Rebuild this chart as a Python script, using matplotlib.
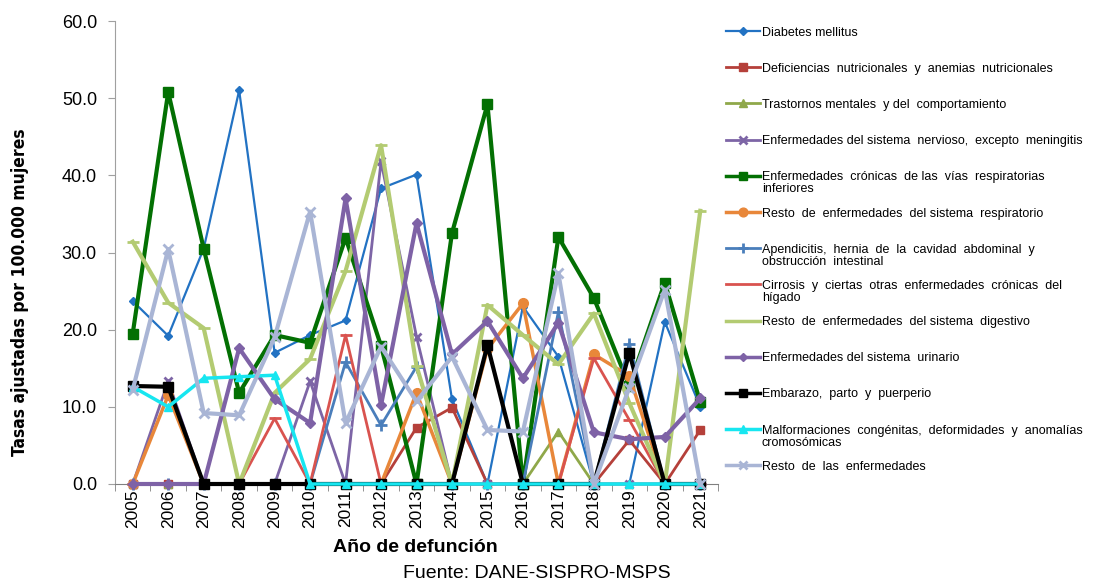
import matplotlib
matplotlib.use('Agg')
import matplotlib.pyplot as plt
from matplotlib.lines import Line2D
import numpy as np

plt.rcParams['font.family'] = ['Liberation Sans', 'DejaVu Sans']

years = list(range(2005, 2022))

diabetes = [23.7, 19.2, 30.5, 51.0, 17.0, 19.3, 21.2, 38.3, 40.1, 11.0, 0.0, 23.0, 16.5, 0.0, 0.0, 21.0, 10.0]
deficiencias = [0, 0, 0, 0, 0, 0, 0, 0, 7.3, 9.9, 0, 0, 0, 0, 5.7, 0, 7.0]
trastornos = [0, 0, 0, 0, 0, 0, 0, 0, 0, 0, 0, 0, 6.8, 0, 0, 0, 0]
nervioso = [0, 13.3, 0, 0, 0, 13.3, 0, 41.8, 19.1, 0, 0, 0, 0, 0, 0, 0, 0]
cronicas = [19.5, 50.8, 30.5, 11.8, 19.3, 18.3, 31.9, 17.9, 0, 32.5, 49.2, 0, 32.0, 24.1, 12.7, 26.1, 10.6]
resp = [0, 11.5, 0, 0, 0, 0, 0, 0, 11.8, 0, 17.5, 23.4, 0, 16.8, 14.0, 0, 0]
apendicitis = [0, 0, 0, 0, 0, 0, 15.8, 7.6, 15.2, 0, 0, 0, 22.3, 0, 18.2, 0, 0]
cirrosis = [0, 0, 0, 0, 8.5, 0, 19.3, 0, 0, 0, 0, 0, 0, 16.3, 8.3, 0, 0]
digestivo = [31.4, 23.5, 20.2, 0, 11.8, 16.2, 27.6, 43.9, 15.3, 0, 23.2, 19.3, 15.5, 22.1, 10.5, 0, 35.4]
urinario = [0, 0, 0, 17.6, 11.0, 7.9, 37.0, 10.2, 33.8, 16.8, 21.1, 13.7, 20.9, 6.7, 5.8, 6.1, 11.1]
embarazo = [12.7, 12.6, 0, 0, 0, 0, 0, 0, 0, 0, 18.0, 0, 0, 0, 17.0, 0, 0]
malform = [12.6, 10.0, 13.7, 13.9, 14.1, 0, 0, 0, 0, 0, 0, 0, 0, 0, 0, 0, 0]
resto = [12.2, 30.4, 9.2, 8.9, 19.0, 35.3, 7.9, 17.8, 10.7, 16.5, 7.0, 6.8, 27.3, 0, 12.5, 25.2, 0]

labels = [
    'Diabetes mellitus',
    'Deficiencias  nutricionales  y  anemias  nutricionales',
    'Trastornos mentales  y del  comportamiento',
    'Enfermedades del sistema  nervioso,  excepto  meningitis',
    'Enfermedades  crónicas  de las  vías  respiratorias\ninferiores',
    'Resto  de  enfermedades  del sistema  respiratorio',
    'Apendicitis,  hernia  de  la  cavidad  abdominal  y\nobstrucción  intestinal',
    'Cirrosis  y  ciertas  otras  enfermedades  crónicas  del\nhígado',
    'Resto  de  enfermedades  del sistema  digestivo',
    'Enfermedades del sistema  urinario',
    'Embarazo,  parto  y  puerperio',
    'Malformaciones  congénitas,  deformidades  y  anomalías\ncromosómicas',
    'Resto  de  las  enfermedades',
]
series = [diabetes, deficiencias, trastornos, nervioso, cronicas, resp, apendicitis,
          cirrosis, digestivo, urinario, embarazo, malform, resto]
# color, marker, linewidth, markersize
styles = [
    ('#2272C3', 'D', 1.6, 4),
    ('#B5403A', 's', 2.0, 6),
    ('#8FA84A', '^', 2.0, 6),
    ('#7D65A6', 'x', 2.0, 6),
    ('#037003', 's', 3.0, 7),
    ('#E8873A', 'o', 2.5, 7),
    ('#4A7EBB', '+', 2.0, 8),
    ('#D9534F', '_', 2.0, 8),
    ('#B3CB72', '_', 3.0, 9),
    ('#7E62A6', 'D', 3.0, 5),
    ('#000000', 's', 3.0, 7),
    ('#17E6F0', '^', 2.5, 6),
    ('#A9B5D5', 'x', 3.0, 7),
]

fig = plt.figure(figsize=(10.94, 5.87), dpi=100)
ax = fig.add_axes([115 / 1094, 1 - 484 / 587, (718 - 115) / 1094, (484 - 21) / 587])

for vals, (c, m, lw, ms) in zip(series, styles):
    ax.plot(years, vals, color=c, marker=m, lw=lw, ms=ms, mew=2 if m in ('x', '+', '_') else 1,
            clip_on=False, zorder=3)

ax.set_xlim(2004.5, 2021.5)
ax.set_ylim(0, 60)
ax.set_yticks(np.arange(0, 61, 10))
ax.set_yticklabels([f'{v:.1f}' for v in np.arange(0, 61, 10)], fontsize=13)
ax.set_xticks(years)
ax.set_xticklabels([str(y) for y in years], rotation=90, fontsize=12.5)
ax.set_xticks(np.arange(2004.5, 2022, 1), minor=True)
ax.tick_params(axis='x', which='major', length=0, pad=4)
ax.tick_params(axis='x', which='minor', length=5, color='#808080')
ax.tick_params(axis='y', length=5, color='#A0A0A0', pad=8)
for s in ('top', 'right'):
    ax.spines[s].set_visible(False)
ax.spines['left'].set_color('#A0A0A0')
ax.spines['bottom'].set_color('#808080')

fig.text(20 / 1094, 1 - 292 / 587, 'Tasas ajustadas por 100.000 mujeres', rotation=90,
         ha='center', va='center', fontsize=12.5, fontweight='bold',
         family='DejaVu Sans', fontstretch='condensed')
fig.text(415 / 1094, 1 - 547 / 587, 'Año de defunción', ha='center', va='center',
         fontsize=14, fontweight='bold')
fig.text(537 / 1094, 1 - 574 / 587, 'Fuente: DANE-SISPRO-MSPS', ha='center', va='center',
         fontsize=14)

# legend drawn on the right
for i, (lab, (c, m, lw, ms)) in enumerate(zip(labels, styles)):
    yp = 1 - (31 + 36.2 * i) / 587
    x0, x1 = 726 / 1094, 760 / 1094
    fig.add_artist(Line2D([x0, x1], [yp, yp], color=c, lw=min(lw, 2.5), transform=fig.transFigure))
    if i not in (7, 8):
        fig.add_artist(Line2D([(x0 + x1) / 2], [yp], color=c, marker=m, ms=ms * 0.9,
                              mew=2 if m in ('x', '+', '_') else 1, transform=fig.transFigure))
    fig.text(762 / 1094, yp + 4.5 / 587, lab, ha='left', va='top', fontsize=9,
             linespacing=1.0)

fig.savefig('out.png', dpi=100)
